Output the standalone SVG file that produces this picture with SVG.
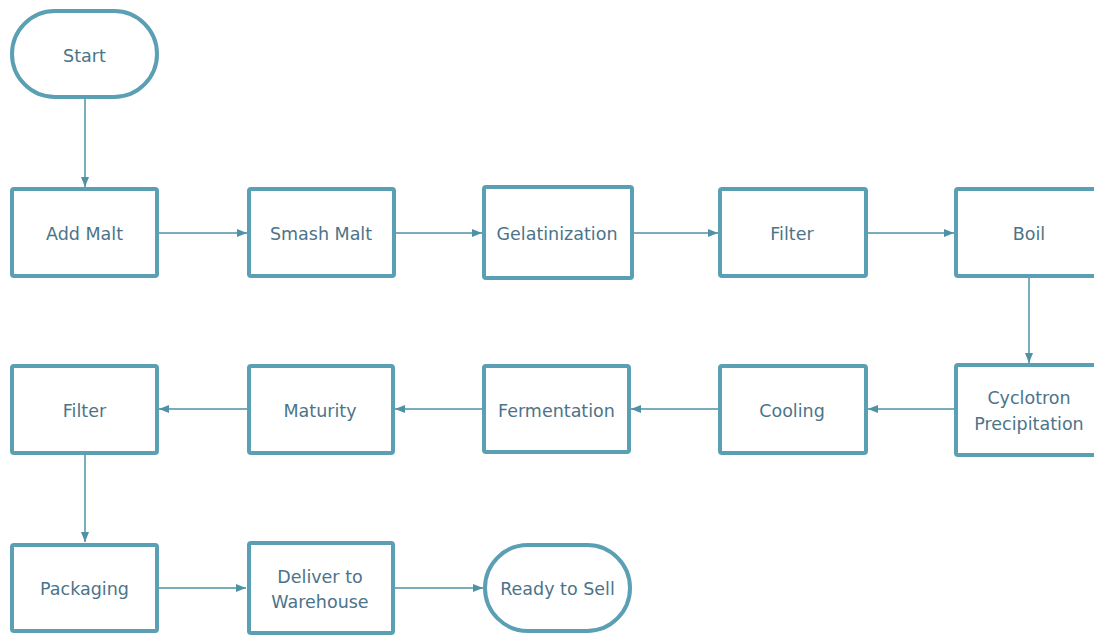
<svg xmlns="http://www.w3.org/2000/svg" width="1094" height="635" viewBox="0 0 1094 635">
<style>
.box{fill:#ffffff;stroke:#5a9fb3;stroke-width:4}
.lbl{font-family:"DejaVu Sans",sans-serif;font-size:17.5px;fill:#4b7489;text-anchor:middle}
.con{fill:none;stroke:#4f91a5;stroke-width:1.5}
</style>
<defs>
<marker id="ah" markerUnits="userSpaceOnUse" markerWidth="12" markerHeight="10" refX="10" refY="5" orient="auto">
<path d="M0,1 L10,5 L0,9 Z" fill="#4f91a5"/>
</marker>
</defs>
<rect width="1094" height="635" fill="#ffffff"/>
<g id="connectors">
<line class="con" x1="85" y1="98" x2="85" y2="187" marker-end="url(#ah)"/>
<line class="con" x1="157" y1="233" x2="247" y2="233" marker-end="url(#ah)"/>
<line class="con" x1="394" y1="233" x2="482" y2="233" marker-end="url(#ah)"/>
<line class="con" x1="632" y1="233" x2="718" y2="233" marker-end="url(#ah)"/>
<line class="con" x1="866" y1="233" x2="954" y2="233" marker-end="url(#ah)"/>
<line class="con" x1="1029" y1="277" x2="1029" y2="363" marker-end="url(#ah)"/>
<line class="con" x1="956" y1="409" x2="868" y2="409" marker-end="url(#ah)"/>
<line class="con" x1="720" y1="409" x2="631" y2="409" marker-end="url(#ah)"/>
<line class="con" x1="483" y1="409" x2="395" y2="409" marker-end="url(#ah)"/>
<line class="con" x1="248" y1="409" x2="159" y2="409" marker-end="url(#ah)"/>
<line class="con" x1="85" y1="454" x2="85" y2="542" marker-end="url(#ah)"/>
<line class="con" x1="157" y1="588" x2="246" y2="588" marker-end="url(#ah)"/>
<line class="con" x1="393" y1="588" x2="483" y2="588" marker-end="url(#ah)"/>
</g>
<g id="start"><rect class="box" x="12" y="11" width="145" height="86" rx="43"/><text class="lbl" x="84.5" y="62">Start</text></g>
<g id="add-malt"><rect class="box" x="12" y="189" width="145" height="87" rx="2"/><text class="lbl" x="84.5" y="240">Add Malt</text></g>
<g id="smash-malt"><rect class="box" x="249" y="189" width="145" height="87" rx="2"/><text class="lbl" x="321" y="240">Smash Malt</text></g>
<g id="gelatinization"><rect class="box" x="484" y="187" width="148" height="91" rx="2"/><text class="lbl" x="557" y="240">Gelatinization</text></g>
<g id="filter1"><rect class="box" x="720" y="189" width="146" height="87" rx="2"/><text class="lbl" x="792" y="240">Filter</text></g>
<g id="boil"><rect class="box" x="956" y="189" width="146" height="87" rx="2"/><text class="lbl" x="1029" y="240">Boil</text></g>
<g id="cyclotron"><rect class="box" x="956" y="365" width="146" height="90" rx="2"/><text class="lbl" x="1029" y="404">Cyclotron</text><text class="lbl" x="1029" y="430">Precipitation</text></g>
<g id="cooling"><rect class="box" x="720" y="366" width="146" height="87" rx="2"/><text class="lbl" x="792" y="417">Cooling</text></g>
<g id="fermentation"><rect class="box" x="484" y="366" width="145" height="86" rx="2"/><text class="lbl" x="556.5" y="417">Fermentation</text></g>
<g id="maturity"><rect class="box" x="249" y="366" width="144" height="87" rx="2"/><text class="lbl" x="320" y="417">Maturity</text></g>
<g id="filter2"><rect class="box" x="12" y="366" width="145" height="87" rx="2"/><text class="lbl" x="84.5" y="417">Filter</text></g>
<g id="packaging"><rect class="box" x="12" y="545" width="145" height="86" rx="2"/><text class="lbl" x="84.5" y="595">Packaging</text></g>
<g id="deliver"><rect class="box" x="249" y="543" width="144" height="90" rx="2"/><text class="lbl" x="320" y="583">Deliver to</text><text class="lbl" x="320" y="608">Warehouse</text></g>
<g id="ready"><rect class="box" x="485" y="545" width="145" height="86" rx="43"/><text class="lbl" x="557.5" y="595">Ready to Sell</text></g>
</svg>
